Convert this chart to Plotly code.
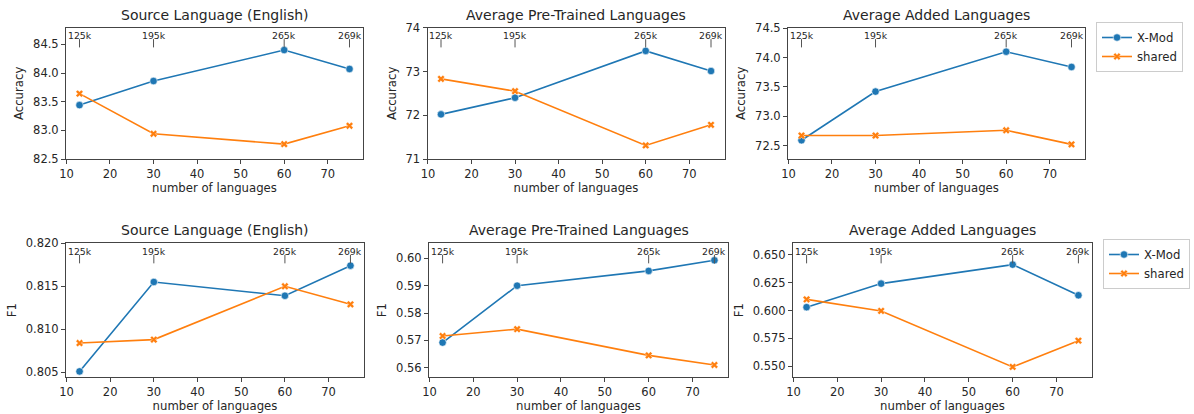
import plotly.graph_objects as go

# ---------------- data ----------------
num_languages = [13, 30, 60, 75]
token_labels = ["125k", "195k", "265k", "269k"]

titles = ["Source Language (English)", "Average Pre-Trained Languages", "Average Added Languages"]

acc_xmod_src = [83.44, 83.86, 84.40, 84.07]
acc_shared_src = [83.64, 82.94, 82.76, 83.08]
acc_xmod_pre = [72.02, 72.40, 73.47, 73.01]
acc_shared_pre = [72.83, 72.55, 71.31, 71.78]
acc_xmod_add = [72.59, 73.42, 74.10, 73.84]
acc_shared_add = [72.67, 72.67, 72.76, 72.52]

f1_xmod_src = [0.8051, 0.8155, 0.8139, 0.8174]
f1_shared_src = [0.8084, 0.8088, 0.8150, 0.8129]
f1_xmod_pre = [0.5692, 0.5900, 0.5954, 0.5993]
f1_shared_pre = [0.5716, 0.5741, 0.5645, 0.5610]
f1_xmod_add = [0.6030, 0.6242, 0.6413, 0.6137]
f1_shared_add = [0.6100, 0.5996, 0.5492, 0.5728]

x_ticks = [10, 20, 30, 40, 50, 60, 70]

# ---------------- styling / layout ----------------
W, H = 1194, 414
BLUE = "#1f77b4"
ORANGE = "#ff7f0e"
AX = "#444444"
TXT = "#262626"
FONT = "DejaVu Sans"


def px_x(a, b):
    return [a / W, b / W]


def px_y(top, bottom):
    return [1 - bottom / H, 1 - top / H]


panels = [
    (0, 0, px_x(66, 363), px_y(27.7, 159), acc_xmod_src, acc_shared_src, [82.5, 84.79],
     [82.5, 83.0, 83.5, 84.0, 84.5], ".1f", "Accuracy"),
    (0, 1, px_x(427.5, 724.5), px_y(27.7, 159), acc_xmod_pre, acc_shared_pre, [71, 74],
     [71, 72, 73, 74], "d", "Accuracy"),
    (0, 2, px_x(788, 1085), px_y(27.7, 159), acc_xmod_add, acc_shared_add, [72.27, 74.51],
     [72.5, 73.0, 73.5, 74.0, 74.5], ".1f", "Accuracy"),
    (1, 0, px_x(66, 364), px_y(243.3, 377), f1_xmod_src, f1_shared_src, [0.80445, 0.8200],
     [0.805, 0.810, 0.815, 0.820], ".3f", "F1"),
    (1, 1, px_x(429, 728), px_y(243.3, 377), f1_xmod_pre, f1_shared_pre, [0.5566, 0.6055],
     [0.56, 0.57, 0.58, 0.59, 0.60], ".2f", "F1"),
    (1, 2, px_x(793, 1092), px_y(243.3, 377), f1_xmod_add, f1_shared_add, [0.5401, 0.6605],
     [0.550, 0.575, 0.600, 0.625, 0.650], ".3f", "F1"),
]

fig = go.Figure()
layout = dict(
    width=W, height=H,
    margin=dict(l=0, r=0, t=0, b=0, autoexpand=False),
    paper_bgcolor="white", plot_bgcolor="white",
    font=dict(family=FONT, size=11.5, color=TXT),
    annotations=[], shapes=[],
)

for i, (row, col, xdom, ydom, ym, ys, yr, ytv, yfmt, ylab) in enumerate(panels):
    n = i + 1
    xa = "x" if n == 1 else f"x{n}"
    ya = "y" if n == 1 else f"y{n}"
    xkey = "xaxis" if n == 1 else f"xaxis{n}"
    ykey = "yaxis" if n == 1 else f"yaxis{n}"
    show = col == 2
    leg = "legend" if row == 0 else "legend2"

    fig.add_trace(go.Scatter(
        x=num_languages, y=ym, xaxis=xa, yaxis=ya, mode="lines+markers", name="X-Mod",
        line=dict(color=BLUE, width=1.6),
        marker=dict(symbol="circle", size=7.5, color=BLUE, line=dict(color="white", width=0.6)),
        showlegend=show, legend=leg,
    ))
    fig.add_trace(go.Scatter(
        x=num_languages, y=ys, xaxis=xa, yaxis=ya, mode="lines+markers", name="shared",
        line=dict(color=ORANGE, width=1.6),
        marker=dict(symbol="x", size=6.5, color=ORANGE, line=dict(color="white", width=0.4)),
        showlegend=show, legend=leg,
    ))

    layout[xkey] = dict(
        domain=xdom, anchor=ya, range=[9.9, 78.1],
        tickmode="array", tickvals=x_ticks,
        ticks="outside", ticklen=4, tickwidth=1, tickcolor=AX,
        showline=True, linecolor=AX, linewidth=1, mirror=True,
        showgrid=False, zeroline=False, automargin=False,
        tickfont=dict(family=FONT, size=11.5, color=TXT),
        title=dict(text="number of languages", font=dict(family=FONT, size=11.7, color=TXT), standoff=4),
    )
    layout[ykey] = dict(
        domain=ydom, anchor=xa, range=yr,
        tickmode="array", tickvals=ytv, tickformat=yfmt,
        ticks="outside", ticklen=4, tickwidth=1, tickcolor=AX,
        showline=True, linecolor=AX, linewidth=1, mirror=True,
        showgrid=False, zeroline=False, automargin=False,
        tickfont=dict(family=FONT, size=11.5, color=TXT),
        title=dict(text=ylab, font=dict(family=FONT, size=11.7, color=TXT), standoff=6),
    )

    # subplot title
    layout["annotations"].append(dict(
        text=titles[col], xref="paper", yref="paper",
        x=(xdom[0] + xdom[1]) / 2, y=ydom[1], xanchor="center", yanchor="bottom",
        yshift=3, showarrow=False, font=dict(family=FONT, size=14, color=TXT),
    ))

    # token-count markers along the top
    for xv, lab in zip(num_languages, token_labels):
        layout["annotations"].append(dict(
            text=lab, xref=xa, yref=f"{ya} domain", x=xv, y=0.94,
            xanchor="center", yanchor="middle", showarrow=False,
            font=dict(family=FONT, size=9.3, color=TXT),
        ))
        layout["shapes"].append(dict(
            type="line", xref=xa, yref=f"{ya} domain", x0=xv, x1=xv, y0=0.85, y1=0.913,
            line=dict(color="#555555", width=1),
        ))

layout["legend"] = dict(
    x=1096 / W, y=1 - 22 / H, xanchor="left", yanchor="top",
    bordercolor="#cccccc", borderwidth=1, bgcolor="white",
    font=dict(family=FONT, size=11.7, color=TXT), tracegroupgap=0, itemwidth=30,
)
layout["legend2"] = dict(
    x=1103 / W, y=1 - 239 / H, xanchor="left", yanchor="top",
    bordercolor="#cccccc", borderwidth=1, bgcolor="white",
    font=dict(family=FONT, size=11.7, color=TXT), tracegroupgap=0, itemwidth=30,
)

fig.update_layout(**layout)
fig.write_html("out.html", config={"displayModeBar": False},
               post_script="document.body.style.margin='0';")
